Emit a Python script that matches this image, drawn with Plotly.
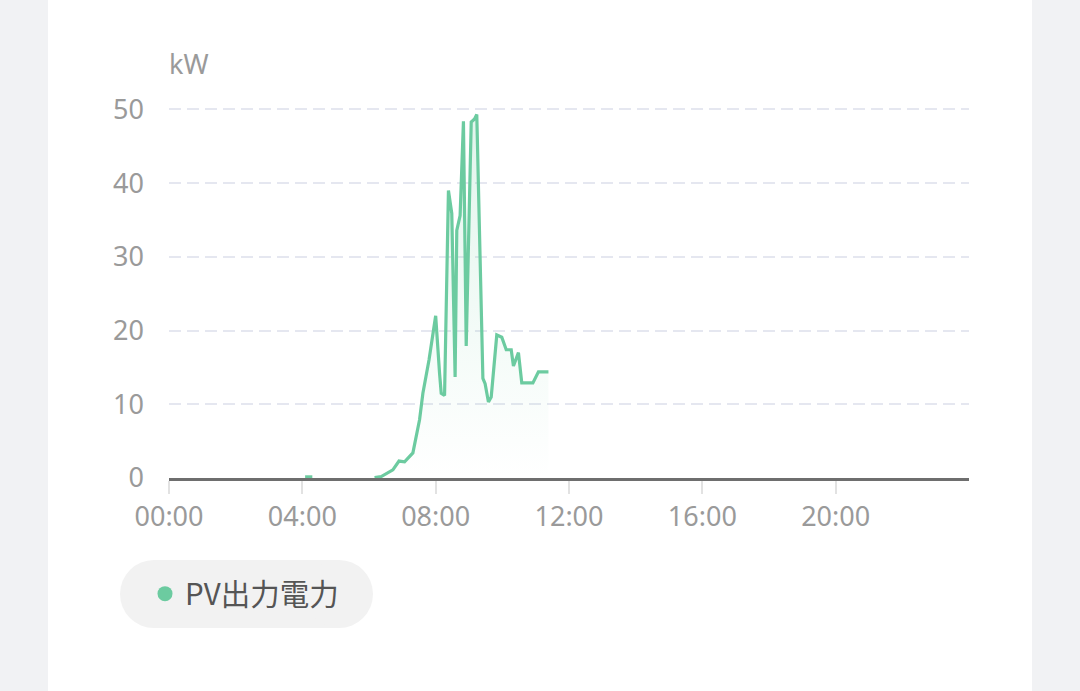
import plotly.graph_objects as go

# ---- data ----
DAY = "2024-01-01"
times = [
    "04:05", "04:18", "05:00",
    "06:10", "06:22", "06:43", "06:54", "07:04", "07:19", "07:31", "07:37",
    "07:48", "08:00", "08:07", "08:10", "08:16", "08:23", "08:29", "08:35",
    "08:38", "08:44", "08:50", "08:55", "09:04", "09:10", "09:14", "09:25",
    "09:29", "09:35", "09:40", "09:50", "09:59", "10:07", "10:16", "10:20",
    "10:29", "10:35", "10:55", "11:05", "11:23",
]
pv_kw = [
    0.15, 0.15, None,
    0.05, 0.2, 1.1, 2.3, 2.2, 3.4, 7.9, 11.5,
    16.0, 22.0, 14.2, 11.5, 11.2, 39.0, 35.9, 13.7,
    33.6, 35.6, 48.4, 17.9, 48.3, 48.7, 49.3, 13.5,
    12.8, 10.3, 11.0, 19.4, 19.1, 17.4, 17.4, 15.2,
    17.0, 12.9, 12.9, 14.4, 14.4,
]
tick_hours = ["00:00", "04:00", "08:00", "12:00", "16:00", "20:00"]
y_ticks = [0, 10, 20, 30, 40, 50]
series_name = "PV出力電力"
unit_label = "kW"

# ---- styling ----
GREEN = "#6ccba0"
W, H = 1080, 691
ML, MR, MT, MB = 169, 111, 105, 213
PW, PH = W - ML - MR, H - MT - MB
Y_TOP = 50.6


def px_x(p):
    return (p - ML) / PW


def px_y(p):
    return (H - MB - p) / PH


x_vals = [f"{DAY} {t}" for t in times]

fig = go.Figure()
fig.add_trace(go.Scatter(
    x=x_vals, y=pv_kw, mode="lines", name=series_name,
    line=dict(color=GREEN, width=3.2),
    fill="tozeroy",
    fillgradient=dict(type="vertical", start=0, stop=50,
                      colorscale=[[0, "rgba(108,203,160,0.0)"],
                                  [1, "rgba(108,203,160,0.2)"]]),
    connectgaps=False, showlegend=False, legendgroup="pv",
    hovertemplate="%{x|%H:%M}<br>%{y} kW<extra></extra>",
))
# legend entry (dot marker)
fig.add_trace(go.Scatter(
    x=[None], y=[None], mode="markers", name=series_name,
    marker=dict(color=GREEN, size=15, symbol="circle"),
    legendgroup="pv", showlegend=True,
))

shapes = [
    # white card
    dict(type="rect", xref="paper", yref="paper", layer="below",
         x0=px_x(48), x1=px_x(1032), y0=px_y(H + 20), y1=px_y(-20),
         fillcolor="white", line=dict(width=0)),
    # legend pill
    dict(type="rect", xref="paper", yref="paper", layer="below",
         x0=px_x(154), x1=px_x(339), y0=px_y(628), y1=px_y(560),
         fillcolor="#f2f2f2", line=dict(width=0)),
    dict(type="circle", xref="paper", yref="paper", layer="below",
         x0=px_x(120), x1=px_x(188), y0=px_y(628), y1=px_y(560),
         fillcolor="#f2f2f2", line=dict(width=0)),
    dict(type="circle", xref="paper", yref="paper", layer="below",
         x0=px_x(305), x1=px_x(373), y0=px_y(628), y1=px_y(560),
         fillcolor="#f2f2f2", line=dict(width=0)),
]

FONT = "Noto Sans, Noto Sans CJK JP, sans-serif"
fig.update_layout(
    width=W, height=H,
    margin=dict(l=ML, r=MR, t=MT, b=MB, pad=0),
    paper_bgcolor="#f1f2f4", plot_bgcolor="rgba(0,0,0,0)",
    font=dict(family=FONT, size=27, color="#9a9a9a"),
    shapes=shapes,
    showlegend=True,
    legend=dict(x=px_x(145), y=px_y(594), xanchor="left", yanchor="middle",
                bgcolor="rgba(0,0,0,0)", borderwidth=0,
                font=dict(family="Noto Sans CJK JP, Noto Sans, sans-serif",
                          size=29.5, color="#555555"),
                itemwidth=30, orientation="h"),
    annotations=[dict(text=unit_label, xref="paper", yref="paper",
                      x=px_x(167), y=px_y(64), xanchor="left", yanchor="middle",
                      showarrow=False,
                      font=dict(family=FONT, size=27, color="#9a9a9a"))],
    xaxis=dict(
        type="date",
        range=[f"{DAY} 00:00", "2024-01-02 00:00"],
        tickvals=[f"{DAY} {t}" for t in tick_hours],
        ticktext=tick_hours,
        showgrid=False, zeroline=False,
        showline=True, linecolor="#6e6e6e", linewidth=2.5,
        ticks="outside", ticklen=13, tickwidth=2, tickcolor="#e2e2e2",
        tickfont=dict(size=27, color="#9a9a9a"),
        fixedrange=True,
    ),
    yaxis=dict(
        range=[0, Y_TOP], tickvals=y_ticks,
        showgrid=True, gridcolor="#e5e7f0", gridwidth=2, griddash="12px,6px",
        zeroline=False, showline=False, ticks="",
        ticklabelstandoff=24,
        tickfont=dict(size=27, color="#9a9a9a"),
        fixedrange=True,
    ),
)

fig.write_html("out.html", config={"displayModeBar": False},
               post_script="document.body.style.margin='0';")
